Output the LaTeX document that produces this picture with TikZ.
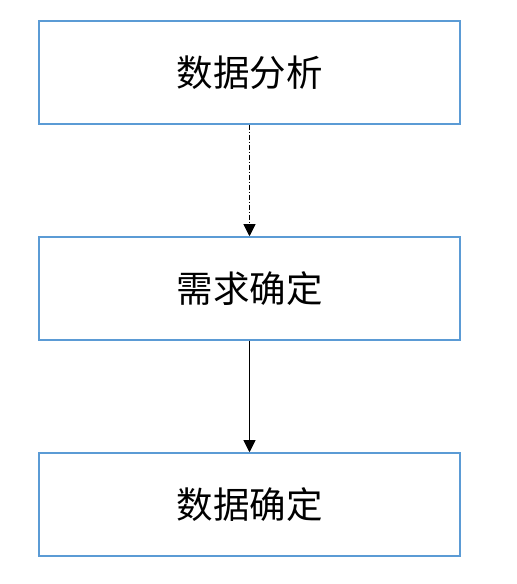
\documentclass[tikz,border=0pt]{standalone}
\usepackage{fontspec}
\newfontfamily\cjk{Noto Sans CJK SC}
\usepackage{tikz}
\usetikzlibrary{
	positioning,
	arrows.meta,
}
\definecolor{boxblue}{HTML}{5B9BD5}

\begin{document}
\begin{tikzpicture}[
                    x=1pt, y=1pt,
                    stage/.style={draw=boxblue, line width=1.5pt, minimum width=421pt, minimum height=103pt, inner sep=0pt, font=\cjk\fontsize{36.5}{40}\selectfont},
                    link/.style={-{Triangle[width=12pt,length=12pt]}, line width=0.8pt},
                ]
\useasboundingbox (0,0) rectangle (517,584);
\node[stage] (analysis) at (249.5,511.5) {数据分析};
\node[stage, below=111.5pt of analysis] (demand) {需求确定};
\node[stage, below=111.5pt of demand] (data) {数据确定};
\draw[link, dash pattern=on 5pt off 2pt on 1pt off 2pt] (analysis) -- (demand);
\draw[link] (demand) -- (data);
\end{tikzpicture}
\end{document}
